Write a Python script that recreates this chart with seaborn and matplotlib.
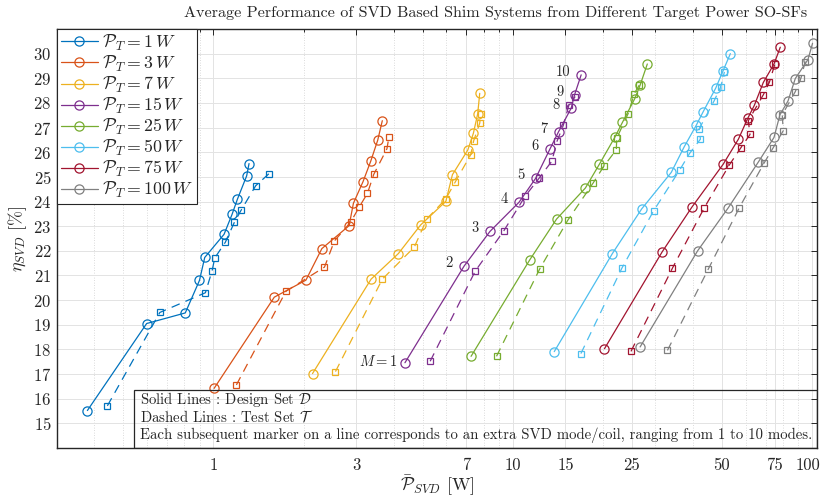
import matplotlib
matplotlib.use("Agg")
import matplotlib.pyplot as plt
import seaborn as sns
from matplotlib.ticker import FixedLocator, FixedFormatter, NullFormatter
from matplotlib.patches import Rectangle
from matplotlib.transforms import ScaledTranslation

sns.set_style("white")
plt.rcParams.update({
    "font.family": "serif",
    "font.serif": ["cmr10"],
    "mathtext.fontset": "cm",
    "axes.formatter.use_mathtext": True,
    "axes.unicode_minus": False,
})

# Target powers of the SO-SFs and their colours
target_powers = [1, 3, 7, 15, 25, 50, 75, 100]
series_colors = ["#0072BD", "#D95319", "#EDB120", "#7E2F8E",
                 "#77AC30", "#4DBEEE", "#A2142F", "#808080"]
modes = list(range(1, 11))

# Design set D: mean SVD power [W] and efficiency [%], modes 1..10
d1_p = [0.379, 0.598, 0.805, 0.898, 0.935, 1.085, 1.154, 1.202, 1.291, 1.315]
d1_eta = [15.52, 19.05, 19.48, 20.80, 21.73, 22.67, 23.48, 24.09, 25.04, 25.54]
d3_p = [1.005, 1.597, 2.037, 2.303, 2.84, 2.936, 3.162, 3.355, 3.54, 3.667]
d3_eta = [16.42, 20.12, 20.81, 22.09, 23.02, 23.93, 24.81, 25.64, 26.49, 27.28]
d7_p = [2.143, 3.363, 4.15, 4.925, 5.98, 6.29, 7.08, 7.39, 7.64, 7.76]
d7_eta = [17.02, 20.85, 21.89, 23.05, 24.01, 25.09, 26.09, 26.77, 27.56, 28.39]
d15_p = [4.365, 6.88, 8.4, 10.5, 11.93, 13.32, 14.23, 15.69, 16.1, 16.94]
d15_eta = [17.46, 21.38, 22.79, 23.97, 24.94, 26.13, 26.83, 27.79, 28.33, 29.14]
d25_p = [7.26, 11.4, 14.02, 17.5, 19.5, 21.93, 23.27, 25.6, 26.66, 28.18]
d25_eta = [17.72, 21.63, 23.29, 24.55, 25.52, 26.60, 27.21, 28.18, 28.72, 29.58]
d50_p = [13.77, 21.54, 26.98, 33.88, 37.43, 41.05, 43.3, 47.7, 50.5, 53.4]
d50_eta = [17.91, 21.89, 23.70, 25.18, 26.22, 27.09, 27.64, 28.60, 29.31, 30.00]
d75_p = [20.27, 31.6, 39.7, 50.5, 56.8, 61.0, 64.2, 68.8, 74.7, 78.4]
d75_eta = [18.03, 21.96, 23.77, 25.51, 26.53, 27.37, 27.90, 28.83, 29.58, 30.26]
d100_p = [26.66, 41.5, 52.5, 66.2, 74.7, 78.2, 83.2, 88.0, 97.0, 100.5]
d100_eta = [18.10, 22.00, 23.74, 25.60, 26.60, 27.52, 28.08, 28.99, 29.76, 30.42]

# Test set T: mean SVD power [W] and efficiency [%], modes 1..10
t1_p = [0.442, 0.662, 0.940, 0.990, 1.010, 1.096, 1.175, 1.236, 1.384, 1.533]
t1_eta = [15.71, 19.50, 20.30, 21.20, 21.71, 22.35, 23.16, 23.64, 24.64, 25.13]
t3_p = [1.193, 1.747, 2.35, 2.536, 2.877, 3.074, 3.27, 3.433, 3.8, 3.86]
t3_eta = [16.56, 20.36, 21.34, 22.40, 23.17, 23.79, 24.33, 25.10, 26.14, 26.63]
t7_p = [2.557, 3.667, 4.69, 5.17, 5.97, 6.44, 7.24, 7.41, 7.76, 7.82]
t7_eta = [17.10, 20.85, 22.15, 23.30, 24.10, 24.81, 25.90, 26.47, 27.18, 27.54]
t15_p = [5.3, 7.49, 9.35, 11.0, 12.24, 13.52, 14.06, 14.76, 15.42, 16.18]
t15_eta = [17.52, 21.17, 22.82, 24.21, 24.94, 25.64, 26.44, 27.09, 27.92, 28.26]
t25_p = [8.83, 12.33, 15.28, 18.57, 20.16, 22.2, 22.27, 24.3, 25.5, 26.5]
t25_eta = [17.72, 21.28, 23.24, 24.75, 25.43, 26.10, 26.57, 27.56, 28.38, 28.73]
t50_p = [16.9, 23.2, 29.6, 36.2, 39.0, 42.4, 42.0, 47.1, 49.6, 51.0]
t50_eta = [17.83, 21.31, 23.63, 25.29, 25.95, 26.53, 26.95, 28.08, 28.66, 29.26]
t75_p = [24.85, 34.2, 43.7, 53.0, 57.8, 62.1, 61.3, 68.8, 72.1, 75.3]
t75_eta = [17.92, 21.30, 23.75, 25.49, 26.17, 26.72, 27.28, 28.33, 28.84, 29.60]
t100_p = [32.9, 45.1, 57.2, 69.2, 74.3, 80.2, 79.6, 88.0, 91.9, 95.0]
t100_eta = [17.96, 21.27, 23.75, 25.56, 26.19, 26.87, 27.52, 28.46, 29.00, 29.68]

design_sets = [(d1_p, d1_eta), (d3_p, d3_eta), (d7_p, d7_eta), (d15_p, d15_eta),
               (d25_p, d25_eta), (d50_p, d50_eta), (d75_p, d75_eta), (d100_p, d100_eta)]
test_sets = [(t1_p, t1_eta), (t3_p, t3_eta), (t7_p, t7_eta), (t15_p, t15_eta),
             (t25_p, t25_eta), (t50_p, t50_eta), (t75_p, t75_eta), (t100_p, t100_eta)]

x_ticks = [1, 3, 7, 10, 15, 25, 50, 75, 100]
x_tick_labels = ["1", "3", "7", "10", "15", "25", "50", "75", "100"]
x_minor = [0.4, 0.5, 0.6, 0.7, 0.8, 0.9, 2, 4, 5, 6, 8, 9,
           20, 30, 40, 60, 70, 80, 90]
y_ticks = list(range(15, 31))

fig = plt.figure(figsize=(8.22, 4.98), dpi=100)
ax = fig.add_axes([57 / 822, 1 - 448 / 498, 760 / 822, 419 / 498])
ax.set_xscale("log")
ax.set_xlim(0.3, 104)
ax.set_ylim(14, 31)

legend_handles = []
for power, color, (dp, de), (tp, te) in zip(target_powers, series_colors,
                                              design_sets, test_sets):
    sns.lineplot(x=tp, y=te, sort=False, estimator=None, ax=ax, color=color,
                 linewidth=0.9, linestyle=(0, (7, 5)), marker="s", markersize=4.6,
                 markerfacecolor="none", markeredgecolor=color,
                 markeredgewidth=0.9, legend=False)
    sns.lineplot(x=dp, y=de, sort=False, estimator=None, ax=ax, color=color,
                 linewidth=0.9, marker="o", markersize=6.6,
                 markerfacecolor="none", markeredgecolor=color,
                 markeredgewidth=0.9, legend=False)
    line = ax.lines[-1]
    line.set_label(r"$\mathcal{P}_T = %d\,W$" % power)
    legend_handles.append(line)

# Mode-count annotations along the 15 W design curve
for m, px, pe in zip(modes, d15_p, d15_eta):
    label = r"$M = 1$" if m == 1 else str(m)
    offset = (-5, 1) if m == 1 else (-8, 2)
    ax.annotate(label, (px, pe), xytext=offset, textcoords="offset points",
                ha="right", va="center", fontsize=10.5)

# Axis ticks and grid
ax.xaxis.set_major_locator(FixedLocator(x_ticks))
ax.xaxis.set_major_formatter(FixedFormatter(x_tick_labels))
ax.xaxis.set_minor_locator(FixedLocator(x_minor))
ax.xaxis.set_minor_formatter(NullFormatter())
ax.yaxis.set_major_locator(FixedLocator(y_ticks))
ax.tick_params(which="both", direction="in", top=True, right=True,
               labelsize=12, width=0.7, colors="#262626", labelcolor="#262626")
ax.tick_params(which="major", length=4)
ax.tick_params(which="minor", length=2.2)
ax.tick_params(axis="x", pad=7)
ax.tick_params(axis="y", pad=4)
ax.grid(True, which="major", color="#e3e3e3", linewidth=0.7, linestyle="-")
ax.grid(True, which="minor", axis="x", color="#cfcfcf", linewidth=0.6,
        linestyle=(0, (1, 2)))
ax.set_axisbelow(True)
for spine in ax.spines.values():
    spine.set_color("#262626")
    spine.set_linewidth(1.0)

# keep the last x tick label inside the figure edge
last_tick = ax.xaxis.get_major_ticks()[-1]
last_tick.label1.set_transform(last_tick.label1.get_transform()
                               + ScaledTranslation(-4 / 100, 0, fig.dpi_scale_trans))

ax.set_xlabel(r"$\bar{\mathcal{P}}_{SVD}$ [W]", fontsize=13, labelpad=0)
ax.set_ylabel(r"$\eta_{SVD}$ [%]", fontsize=13, labelpad=3)

fig.text(496 / 822, 1 - 13 / 498,
         "Average Performance of SVD Based Shim Systems from Different Target Power SO-SFs",
         ha="center", va="center", fontsize=11.55)

leg = ax.legend(handles=legend_handles, loc="upper left", bbox_to_anchor=(0, 1),
                borderaxespad=0, frameon=True, fancybox=False, edgecolor="#262626",
                framealpha=1, fontsize=12.8, handlelength=2.1, handletextpad=0.25,
                labelspacing=0.06, borderpad=0.2)
leg.get_frame().set_linewidth(0.8)

# Explanatory note box at the bottom of the axes
box_x0 = (134 - 57) / 760
box_h = (448 - 390) / 419
ax.add_patch(Rectangle((box_x0, 0), 1 - box_x0, box_h, transform=ax.transAxes,
                       facecolor="none", edgecolor="#262626", linewidth=0.9,
                       zorder=5))
note_lines = [
    r"Solid Lines : Design Set $\mathcal{D}$",
    r"Dashed Lines : Test Set $\mathcal{T}$",
    "Each subsequent marker on a line corresponds to an extra SVD mode/coil, ranging from 1 to 10 modes.",
]
for i, txt in enumerate(note_lines):
    ypix = 404 + 17.3 * i
    ax.text((140 - 57) / 760, (448 - ypix) / 419, txt, transform=ax.transAxes,
            ha="left", va="baseline", fontsize=10.65, zorder=6)

fig.savefig("out.png", dpi=100)
